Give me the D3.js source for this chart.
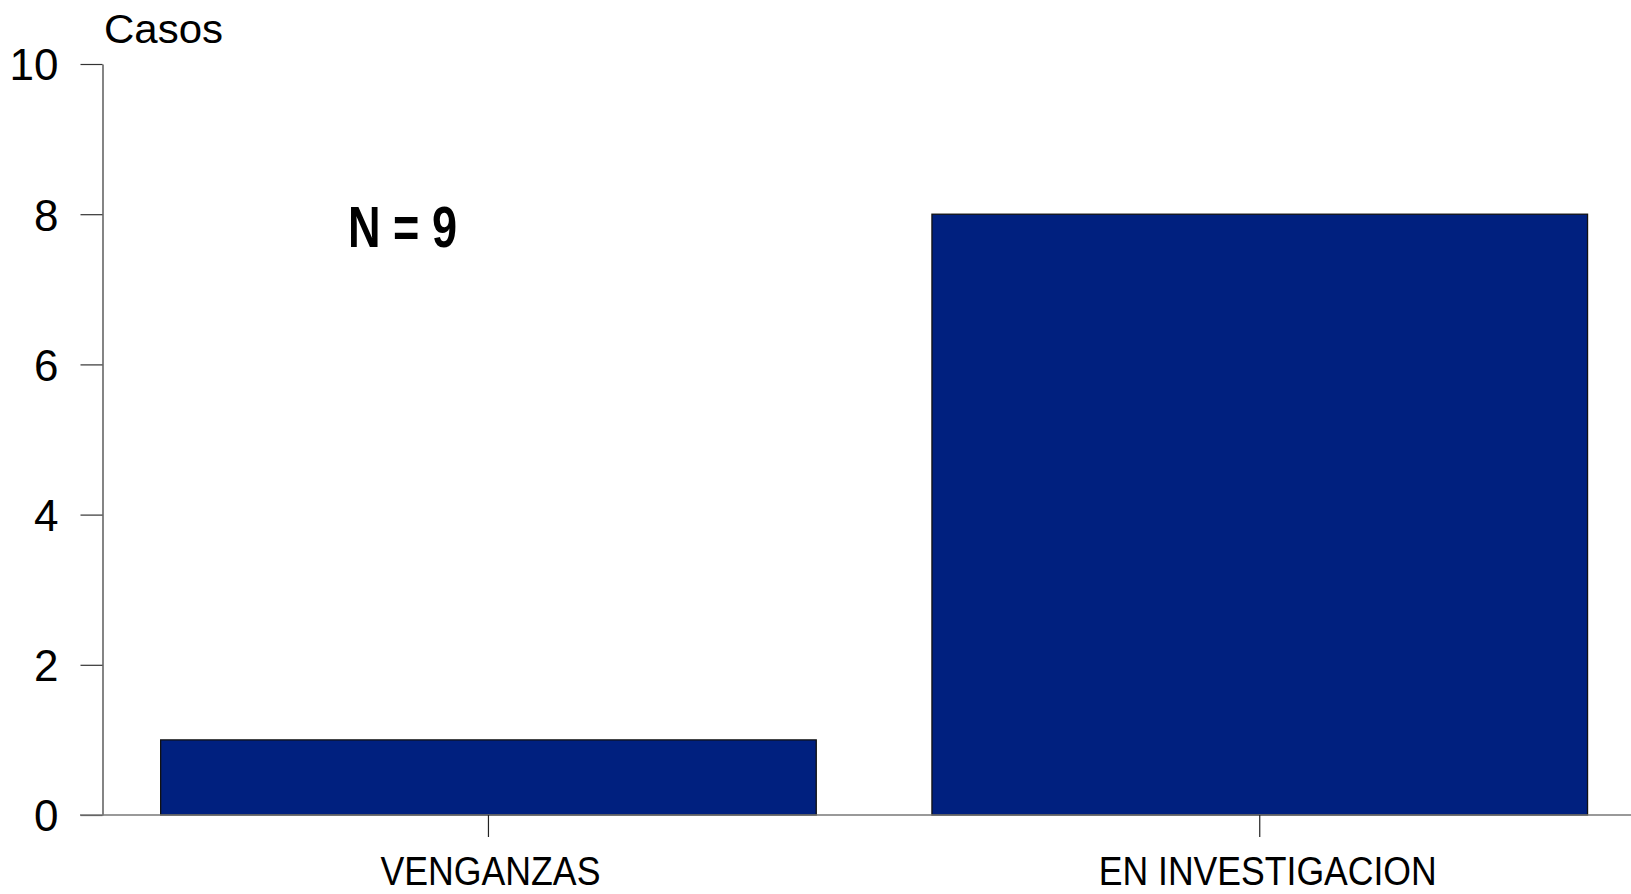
<!DOCTYPE html>
<html><head><meta charset="utf-8">
<script src="https://cdn.jsdelivr.net/npm/d3@7"></script>
<style>html,body{margin:0;padding:0;background:#fff;}svg{display:block;}</style>
</head><body>
<svg id="chart" width="1631" height="894"></svg>
<script>
const categories = ["VENGANZAS", "EN INVESTIGACION"];
const values = [1, 8];
const yTicks = [0, 2, 4, 6, 8, 10];
const yTitle = "Casos";
const annotation = "N = 9";

const svg = d3.select("#chart");
const font = "'Liberation Sans', Arial, sans-serif";
const x0 = 102.5, y0 = 815, yTop = 64;

const y = d3.scaleLinear().domain([0, 10]).range([y0, yTop]);
const x = d3.scaleBand().domain(categories).range([x0, 1645.7]).paddingInner(0.15).paddingOuter(0.0754);

// bars
svg.append("g").selectAll("rect").data(values).join("rect")
  .attr("x", (d, i) => x(categories[i]))
  .attr("y", d => y(d))
  .attr("width", x.bandwidth())
  .attr("height", d => y(0) - y(d))
  .attr("fill", "#00207f")
  .attr("stroke", "#111")
  .attr("stroke-width", 1.3);

// y axis
const yAxis = d3.axisLeft(y).tickValues(yTicks).tickSize(22).tickPadding(22).tickSizeOuter(0);
const gy = svg.append("g").attr("transform", `translate(${x0},0)`).call(yAxis);
gy.select(".domain").attr("stroke", "#333").attr("stroke-width", 1.2);
gy.selectAll(".tick line").attr("stroke", "#333").attr("stroke-width", 1.2);
gy.selectAll(".tick text").attr("font-family", font).attr("font-size", 44).attr("fill", "#000").attr("dy", "0.36em");

// x axis baseline
svg.append("line").attr("x1", 80).attr("x2", 1631).attr("y1", y0).attr("y2", y0)
  .attr("stroke", "#777").attr("stroke-width", 1.5);

// x ticks and labels
const gx = svg.append("g");
gx.selectAll("line").data(categories).join("line")
  .attr("x1", d => x(d) + x.bandwidth() / 2).attr("x2", d => x(d) + x.bandwidth() / 2)
  .attr("y1", y0).attr("y2", y0 + 22)
  .attr("stroke", "#222").attr("stroke-width", 1.2);
const labelLen = [220, 338];
gx.selectAll("text").data(categories).join("text")
  .attr("x", (d, i) => x(d) + x.bandwidth() / 2 + (i === 0 ? 2 : 8))
  .attr("y", 885)
  .attr("text-anchor", "middle")
  .attr("font-family", font).attr("font-size", 40)
  .attr("textLength", (d, i) => labelLen[i])
  .attr("lengthAdjust", "spacingAndGlyphs")
  .text(d => d);

// y title
svg.append("text").attr("x", 104).attr("y", 43)
  .attr("font-family", font).attr("font-size", 41).attr("textLength", 119).attr("lengthAdjust", "spacingAndGlyphs").text(yTitle);

// annotation
svg.append("text").attr("x", 348).attr("y", 246.7)
  .attr("font-family", font).attr("font-size", 58).attr("font-weight", "bold")
  .attr("textLength", 109).attr("lengthAdjust", "spacingAndGlyphs")
  .text(annotation);
</script>
</body></html>
